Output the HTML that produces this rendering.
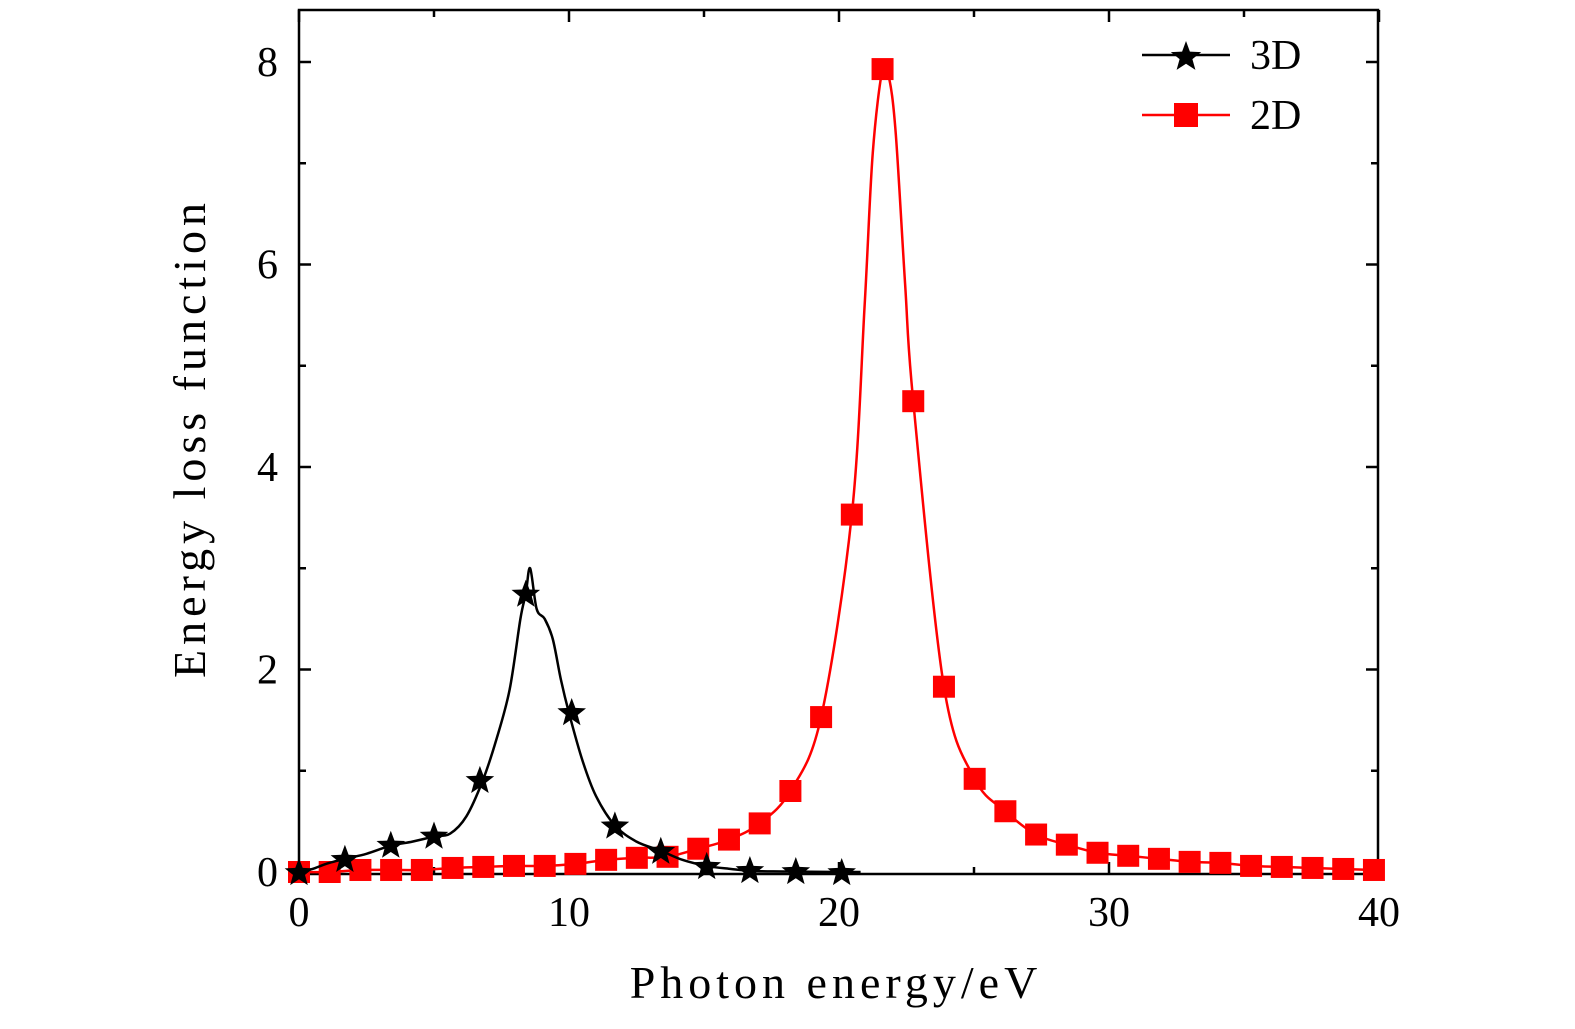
<!DOCTYPE html>
<html><head><meta charset="utf-8"><style>
body{margin:0;background:#fff;}
svg text{font-family:"Liberation Serif",serif;fill:#000;}
</style></head><body>
<svg id="chart" width="1575" height="1024" viewBox="0 0 1575 1024" xmlns="http://www.w3.org/2000/svg">
<rect x="299" y="10" width="1079" height="864" fill="none" stroke="#000" stroke-width="2.5"/>
<g id="axes"></g>
<g id="series"></g>
<text x="836" y="998" font-size="46" text-anchor="middle" letter-spacing="5">Photon energy/eV</text>
<text transform="translate(205,438) rotate(-90)" font-size="46" text-anchor="middle" letter-spacing="5">Energy loss function</text>
<g>
<g>
<line x1="1142" y1="55" x2="1230" y2="55" stroke="#000" stroke-width="2.5"/>
<polygon id="lgstar" points="" fill="#000"/>
<text x="1250" y="69" font-size="42">3D</text></g>
<g>
<line x1="1142" y1="115" x2="1230" y2="115" stroke="#f00" stroke-width="2.5"/>
<rect x="1174" y="103" width="24" height="24" fill="#f00"/>
<text x="1250" y="129" font-size="42">2D</text></g>
</g>
</svg>
<script>
const xTicks=[0,10,20,30,40];
const yTicks=[0,2,4,6,8];
const line3dX=[0,0.5,1,1.7,2.5,3.4,4.2,5,5.6,6.2,6.8,7.3,7.8,8.2,8.4,8.56,8.8,9.1,9.4,9.7,10.0,10.5,11,11.7,12.5,13.4,14.2,15.1,16,16.8,18,20,20.8];
const line3dY=[0,0.03,0.08,0.13,0.18,0.26,0.3,0.35,0.38,0.55,0.9,1.3,1.8,2.5,2.75,3.0,2.6,2.5,2.3,1.9,1.57,1.1,0.75,0.46,0.3,0.21,0.12,0.06,0.03,0.01,0.005,0,0];
const mark3dX=[0,1.7,3.4,5,6.7,8.4,10.1,11.7,13.4,15.1,16.7,18.4,20.1];
const mark3dY=[0,0.13,0.27,0.36,0.91,2.75,1.58,0.46,0.21,0.06,0.02,0.01,0];
const mark2dY=[0,0,0.02,0.02,0.02,0.04,0.05,0.06,0.06,0.08,0.12,0.14,0.15,0.23,0.32,0.48,0.80,1.53,3.53,7.93,4.65,1.83,0.92,0.60,0.37,0.27,0.19,0.16,0.13,0.10,0.09,0.06,0.05,0.04,0.03,0.02];
const mark2dX=mark2dY.map((v,i)=>+(i*1.1375).toFixed(3));
const extra2dX=[20.95,21.25,21.85,22.1,22.45];
const extra2dY=[5.6,7.1,7.85,7.3,5.8];
const X=v=>299+v*27, Y=v=>872-v*101.25;
const NS="http://www.w3.org/2000/svg";
const axes=document.getElementById('axes'), ser=document.getElementById('series');
function mk(tag,attrs,parent){const e=document.createElementNS(NS,tag);for(const k in attrs)e.setAttribute(k,attrs[k]);parent.appendChild(e);return e;}
xTicks.forEach(t=>{
 const l=mk('line',{x1:X(t),x2:X(t),y1:874,y2:862,stroke:'#000','stroke-width':2.5},axes);
 
 
 mk('line',{x1:X(t),x2:X(t),y1:10,y2:22,stroke:'#000','stroke-width':2.5},axes);
 const tx=mk('text',{x:X(t),y:926,'font-size':42,'text-anchor':'middle'},axes);tx.textContent=t;
 
 
 if(t<40){mk('line',{x1:X(t+5),x2:X(t+5),y1:874,y2:867,stroke:'#000','stroke-width':2.5},axes);mk('line',{x1:X(t+5),x2:X(t+5),y1:10,y2:17,stroke:'#000','stroke-width':2.5},axes);}
});
yTicks.forEach(t=>{
 const l=mk('line',{x1:299,x2:311,y1:Y(t),y2:Y(t),stroke:'#000','stroke-width':2.5},axes);
 
 
 mk('line',{x1:1378,x2:1366,y1:Y(t),y2:Y(t),stroke:'#000','stroke-width':2.5},axes);
 const tx=mk('text',{x:278,y:Y(t)+14,'font-size':42,'text-anchor':'end'},axes);tx.textContent=t;
 
 
 if(t<8){mk('line',{x1:299,x2:306,y1:Y(t+1),y2:Y(t+1),stroke:'#000','stroke-width':2.5},axes);mk('line',{x1:1378,x2:1371,y1:Y(t+1),y2:Y(t+1),stroke:'#000','stroke-width':2.5},axes);}
});
function smooth(xs,ys){const p=xs.map((x,i)=>[X(x),Y(ys[i])]);let d=`M${p[0][0]},${p[0][1]}`;
 for(let i=0;i<p.length-1;i++){const p0=p[i-1]||p[i],p1=p[i],p2=p[i+1],p3=p[i+2]||p2;
 d+=` C${p1[0]+(p2[0]-p0[0])/6},${p1[1]+(p2[1]-p0[1])/6} ${p2[0]-(p3[0]-p1[0])/6},${p2[1]-(p3[1]-p1[1])/6} ${p2[0]},${p2[1]}`;}return d;}
function star(cx,cy,R){const r=R*0.42;let pts=[];for(let i=0;i<10;i++){const a=-Math.PI/2+i*Math.PI/5,rr=i%2?r:R;pts.push((cx+rr*Math.cos(a)).toFixed(1)+','+(cy+rr*Math.sin(a)).toFixed(1));}return pts.join(' ');}
const all2=mark2dX.map((x,i)=>[x,mark2dY[i]]).concat(extra2dX.map((x,i)=>[x,extra2dY[i]])).sort((a,b)=>a[0]-b[0]);
const p2=mk('path',{d:smooth(all2.map(a=>a[0]),all2.map(a=>a[1])),fill:'none',stroke:'#f00','stroke-width':2.5},ser);


mark2dX.forEach((x,i)=>{const r=mk('rect',{x:X(x)-11,y:Y(mark2dY[i])-11,width:22,height:22,fill:'#f00'},ser);
 
 });
const p3=mk('path',{d:smooth(line3dX,line3dY),fill:'none',stroke:'#000','stroke-width':2.5},ser);


mark3dX.forEach((x,i)=>{const s=mk('polygon',{points:star(X(x),Y(mark3dY[i])+1,15),fill:'#000'},ser);
 
 });
document.getElementById('lgstar').setAttribute('points',star(1186,57,16));
</script>
</body></html>
